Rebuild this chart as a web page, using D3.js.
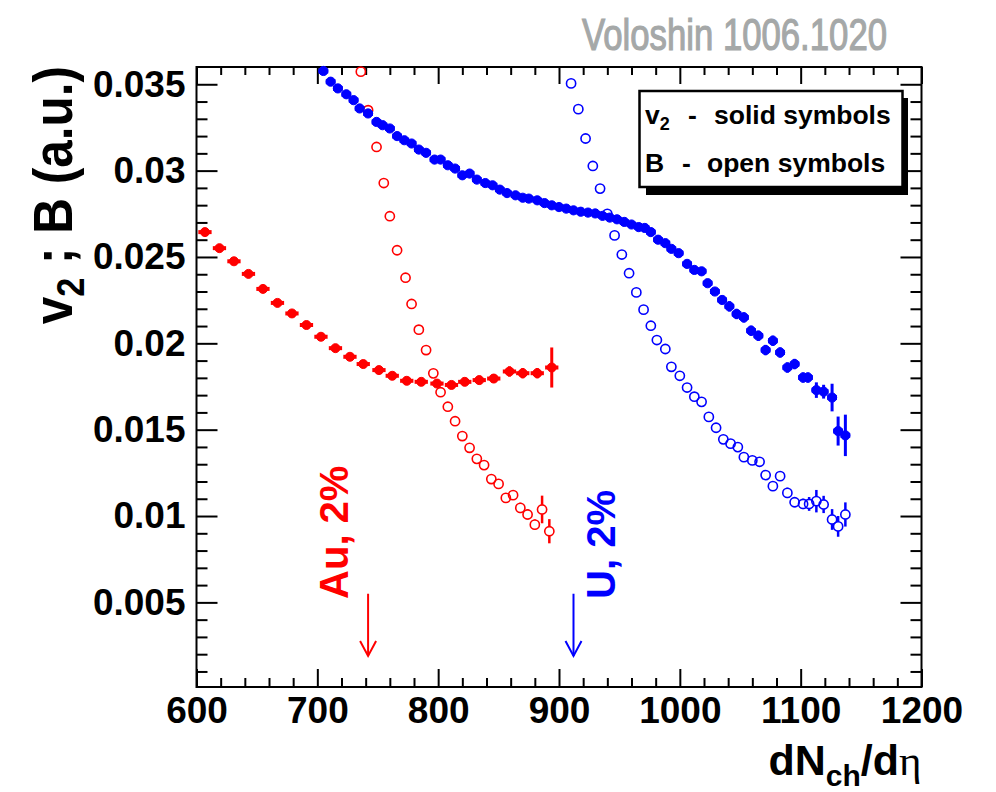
<!DOCTYPE html>
<html lang="en">
<head>
<meta charset="UTF-8">
<title>v2 and B vs dNch/deta</title>
<script src="https://d3js.org/d3.v7.min.js"></script>
<style>
  body { margin: 0; background: #fff; }
  text { font-family: "Liberation Sans", Arial, sans-serif; }
</style>
</head>
<body>
<svg id="chart" width="996" height="792"></svg>
<script>
// Au, v2 (solid red)
const auV2X = [607, 619, 631, 643, 655, 667, 679, 691, 703, 715, 727, 738, 751, 762, 774, 786, 799, 811, 822, 834, 846, 859, 870, 882, 894];
const auV2Y = [0.02644, 0.02551, 0.02475, 0.02402, 0.02315, 0.02234, 0.02173, 0.02106, 0.02038, 0.01972, 0.01922, 0.0188, 0.01845, 0.01812, 0.01783, 0.01777, 0.01767, 0.01759, 0.01777, 0.01787, 0.01796, 0.01837, 0.01827, 0.01827, 0.0186];
const auV2Err = [0.0002, 0.0002, 0.0002, 0.0002, 0.0002, 0.0002, 0.0002, 0.0002, 0.0002, 0.0002, 0.0002, 0.0002, 0.0002, 0.0002, 0.0002, 0.0002, 0.0002, 0.0002, 0.0002, 0.00025, 0.00025, 0.0003, 0.0003, 0.0003, 0.00116];

// Au, B (open red)
const auBX = [736, 742, 749, 755, 760, 766, 773, 778, 784, 790, 796, 802, 808, 814, 820, 826, 832, 838, 844, 850, 856, 862, 868, 874, 880, 886, 892];
const auBY = [0.03573, 0.0335, 0.03137, 0.02928, 0.02736, 0.02539, 0.0238, 0.02228, 0.02079, 0.01961, 0.01826, 0.01717, 0.01633, 0.01549, 0.01463, 0.01395, 0.01331, 0.01295, 0.01214, 0.01186, 0.01105, 0.01121, 0.01047, 0.01009, 0.0095, 0.01038, 0.00912];
const auBErr = [0.0002, 0.0002, 0.0002, 0.0002, 0.0002, 0.0002, 0.0002, 0.0002, 0.0002, 0.0002, 0.0002, 0.0002, 0.0002, 0.0002, 0.0002, 0.0002, 0.0002, 0.0002, 0.0002, 0.0002, 0.00025, 0.00025, 0.0003, 0.0003, 0.0003, 0.0008, 0.0007];

// U, v2 (solid blue)
const uV2X = [705, 711, 717, 724, 730, 735, 742, 749, 754, 760, 766, 772, 778, 784, 790, 797, 802, 808, 814, 820,
  826, 832, 839, 845, 851, 857, 864, 870, 875, 882, 888, 894, 900, 906, 912, 918, 924, 930, 936, 942,
  948, 954, 960, 966, 971, 976, 982, 988, 993, 999, 1006, 1012, 1018, 1023, 1029, 1035, 1041, 1047, 1053, 1059,
  1065, 1071, 1077, 1083, 1089, 1095, 1102, 1106, 1113, 1119, 1126, 1131, 1137];
const uV2Y = [0.03577, 0.03515, 0.03476, 0.03442, 0.03408, 0.0336, 0.03331, 0.03282, 0.03263, 0.03244, 0.032, 0.03176, 0.03157, 0.03122, 0.03103, 0.03064, 0.03064, 0.03031, 0.03012, 0.02973,
  0.02983, 0.02948, 0.02928, 0.02915, 0.0289, 0.0287, 0.02857, 0.02843, 0.02838, 0.02828, 0.02812, 0.02799, 0.02789, 0.0278, 0.0277, 0.02762, 0.02757, 0.02752, 0.02738, 0.02728,
  0.02718, 0.02703, 0.02688, 0.02673, 0.02668, 0.02644, 0.026, 0.0258, 0.02547, 0.02522, 0.0246, 0.02425, 0.02417, 0.02348, 0.023, 0.02251, 0.02214, 0.0217, 0.0215, 0.02073,
  0.02044, 0.01961, 0.02015, 0.01947, 0.0186, 0.0188, 0.01802, 0.01802, 0.01729, 0.0172, 0.01686, 0.01492, 0.01467];
const uV2Err = [0.0002, 0.0002, 0.0002, 0.0002, 0.0002, 0.0002, 0.0002, 0.0002, 0.0002, 0.0002, 0.0002, 0.0002, 0.0002, 0.0002, 0.0002, 0.0002, 0.0002, 0.0002, 0.0002, 0.0002,
  0.0002, 0.0002, 0.0002, 0.0002, 0.0002, 0.0002, 0.0002, 0.0002, 0.0002, 0.0002, 0.0002, 0.0002, 0.0002, 0.0002, 0.0002, 0.0002, 0.0002, 0.0002, 0.0002, 0.0002,
  0.0002, 0.0002, 0.0002, 0.0002, 0.0002, 0.0002, 0.0002, 0.0002, 0.0002, 0.0002, 0.0002, 0.0002, 0.0002, 0.0002, 0.0002, 0.0002, 0.0003, 0.0003, 0.0003, 0.0003,
  0.0003, 0.0003, 0.0003, 0.0003, 0.0003, 0.0003, 0.0003, 0.0003, 0.00045, 0.0004, 0.0008, 0.00084, 0.0012];

// U, B (open blue)
const uBX = [910, 916, 922, 928, 934, 940, 946, 952, 958, 964, 970, 976, 981, 988, 993, 1000, 1006, 1012, 1018, 1024,
  1030, 1036, 1042, 1048, 1053, 1060, 1066, 1071, 1077, 1083, 1089, 1095, 1102, 1107, 1113, 1119, 1126, 1131, 1137];
const uBY = [0.03505, 0.03356, 0.03186, 0.03027, 0.02896, 0.0275, 0.02625, 0.02514, 0.02406, 0.02295, 0.02195, 0.02102, 0.02019, 0.01967, 0.01864, 0.01812, 0.01744, 0.01691, 0.01661, 0.01574,
  0.01511, 0.01444, 0.01419, 0.01399, 0.01341, 0.01322, 0.01314, 0.01237, 0.01173, 0.01231, 0.01134, 0.0108, 0.0107, 0.0107, 0.01086, 0.01067, 0.0098, 0.0094, 0.01009];
const uBErr = [0.0002, 0.0002, 0.0002, 0.0002, 0.0002, 0.0002, 0.0002, 0.0002, 0.0002, 0.0002, 0.0002, 0.0002, 0.0002, 0.0002, 0.0002, 0.0002, 0.0002, 0.0002, 0.0002, 0.0002,
  0.0002, 0.0002, 0.0002, 0.0002, 0.0002, 0.00025, 0.00025, 0.00025, 0.00025, 0.00025, 0.0003, 0.0003, 0.0003, 0.0004, 0.00065, 0.0005, 0.0006, 0.0006, 0.0007];

// half bin widths (x errors)
const auXErr = 5.5;
const uXErr = 4;

// axes
const xMajor = [600, 700, 800, 900, 1000, 1100, 1200];
const xLabels = ["600", "700", "800", "900", "1000", "1100", "1200"];
const yMajor = [0.005, 0.01, 0.015, 0.02, 0.025, 0.03, 0.035];
const yLabels = ["0.005", "0.01", "0.015", "0.02", "0.025", "0.03", "0.035"];

// 2% centrality markers
const arrowX = [742, 912];
const arrowLabelX = [725.5, 946.5];
const arrowLabels = ["Au, 2%", "U, 2%"];
const arrowColors = ["#ff0000", "#0000ff"];

const svg = d3.select("#chart");
const margin = { top: 67, right: 74.5, bottom: 105, left: 196.5 };
const width = 996, height = 792;
const x0 = margin.left, x1 = width - margin.right;
const y0 = height - margin.bottom, y1 = margin.top;

const x = d3.scaleLinear().domain([600, 1200]).range([x0, x1]);
const y = d3.scaleLinear().domain([0.0001, 0.036]).range([y0, y1]);

const xMinor = d3.range(600, 1201, 20).filter(v => v % 100 !== 0);
const yMinor = d3.range(1, 36).map(v => v / 1000).filter(v => Math.round(v * 1000) % 5 !== 0);

function styleAxis(g) {
    g.select(".domain").remove();
    g.selectAll("line").attr("stroke", "#000").attr("stroke-width", 2);
    g.selectAll("text")
        .style("font-family", "'Liberation Sans', Arial, sans-serif")
        .style("font-size", "37px")
        .style("font-weight", "bold")
        .attr("fill", "#000");
}

// bottom / top
svg.append("g").attr("transform", `translate(0,${y0})`)
    .call(d3.axisBottom(x).tickValues(xMajor).tickSize(-18).tickPadding(10).tickFormat((d, i) => xLabels[i]))
    .call(styleAxis);
svg.append("g").attr("transform", `translate(0,${y0})`)
    .call(d3.axisBottom(x).tickValues(xMinor).tickSize(-9).tickFormat(""))
    .call(styleAxis);
svg.append("g").attr("transform", `translate(0,${y1})`)
    .call(d3.axisTop(x).tickValues(xMajor).tickSize(-17).tickFormat(""))
    .call(styleAxis);
svg.append("g").attr("transform", `translate(0,${y1})`)
    .call(d3.axisTop(x).tickValues(xMinor).tickSize(-8).tickFormat(""))
    .call(styleAxis);

// left / right
svg.append("g").attr("transform", `translate(${x0},0)`)
    .call(d3.axisLeft(y).tickValues(yMajor).tickSize(-21).tickPadding(11).tickFormat((d, i) => yLabels[i]))
    .call(styleAxis);
svg.append("g").attr("transform", `translate(${x0},0)`)
    .call(d3.axisLeft(y).tickValues(yMinor).tickSize(-11).tickFormat(""))
    .call(styleAxis);
svg.append("g").attr("transform", `translate(${x1},0)`)
    .call(d3.axisRight(y).tickValues(yMajor).tickSize(-21).tickFormat(""))
    .call(styleAxis);
svg.append("g").attr("transform", `translate(${x1},0)`)
    .call(d3.axisRight(y).tickValues(yMinor).tickSize(-11).tickFormat(""))
    .call(styleAxis);

// frame
svg.append("rect")
    .attr("x", x0).attr("y", y1)
    .attr("width", x1 - x0).attr("height", y0 - y1)
    .attr("fill", "none").attr("stroke", "#000").attr("stroke-width", 2);

const plot = svg.append("g");

function drawSeries(xs, ys, errs, xErr, color, open, r, barW) {
    const pts = xs.map((v, i) => ({ x: v, y: ys[i], e: errs[i] }));
    const g = plot.append("g");
    pts.forEach(p => {
        const cx = x(p.x), cy = y(p.y);
        const top = y(p.y + p.e), bot = y(p.y - p.e);
        if (open) {
            if (cy - top > r) {
                g.append("line").attr("x1", cx).attr("x2", cx).attr("y1", top).attr("y2", cy - r)
                    .attr("stroke", color).attr("stroke-width", 2.5);
                g.append("line").attr("x1", cx).attr("x2", cx).attr("y1", cy + r).attr("y2", bot)
                    .attr("stroke", color).attr("stroke-width", 2.5);
            }
        } else {
            g.append("line").attr("x1", x(p.x - xErr)).attr("x2", x(p.x + xErr)).attr("y1", cy).attr("y2", cy)
                .attr("stroke", color).attr("stroke-width", barW);
            g.append("line").attr("x1", cx).attr("x2", cx).attr("y1", top).attr("y2", bot)
                .attr("stroke", color).attr("stroke-width", 3);
        }
    });
    g.selectAll("circle")
        .data(pts)
        .enter().append("circle")
        .attr("cx", d => x(d.x))
        .attr("cy", d => y(d.y))
        .attr("r", r)
        .attr("fill", open ? "none" : color)
        .attr("stroke", color)
        .attr("stroke-width", open ? 1.6 : 1);
}

drawSeries(auV2X, auV2Y, auV2Err, auXErr, "#ff0000", false, 4.5, 4);
drawSeries(auBX, auBY, auBErr, auXErr, "#ff0000", true, 4.6, 0);
drawSeries(uV2X, uV2Y, uV2Err, uXErr, "#0000ff", false, 4.6, 5);
drawSeries(uBX, uBY, uBErr, uXErr, "#0000ff", true, 4.6, 0);

// arrows + labels
arrowX.forEach((ax, i) => {
    const c = arrowColors[i];
    const px = x(ax);
    const yTop = y(0.0055), yTip = y(0.0019);
    svg.append("line").attr("x1", px).attr("x2", px).attr("y1", yTop).attr("y2", yTip)
        .attr("stroke", c).attr("stroke-width", 2);
    svg.append("path")
        .attr("d", `M${px - 8},${yTip - 15}L${px},${yTip}L${px + 8},${yTip - 15}`)
        .attr("fill", "none").attr("stroke", c).attr("stroke-width", 2);
    svg.append("text")
        .attr("transform", `translate(${x(arrowLabelX[i])},${y(0.0052)}) rotate(-90)`)
        .attr("fill", c)
        .style("font-size", "40px")
        .style("font-weight", "bold")
        .text(arrowLabels[i]);
});

// legend
const lg = svg.append("g");
lg.append("rect").attr("x", 646).attr("y", 98).attr("width", 262).attr("height", 97).attr("fill", "#000");
lg.append("rect").attr("x", 639.5).attr("y", 91).attr("width", 263).attr("height", 96)
    .attr("fill", "#fff").attr("stroke", "#000").attr("stroke-width", 2.5);
const l1 = lg.append("text").attr("x", 645).attr("y", 124)
    .style("font-size", "26.5px").style("font-weight", "bold");
l1.append("tspan").text("v");
l1.append("tspan").attr("dy", 6).style("font-size", "18px").text("2");
l1.append("tspan").attr("x", 688).attr("dy", -6).text("-");
l1.append("tspan").attr("x", 714).text("solid symbols");
const l2 = lg.append("text").attr("x", 645).attr("y", 172)
    .style("font-size", "26.5px").style("font-weight", "bold");
l2.append("tspan").text("B");
l2.append("tspan").attr("x", 682).text("-");
l2.append("tspan").attr("x", 707).text("open symbols");

// axis titles
const xt = svg.append("text")
    .attr("x", x1).attr("y", 775)
    .attr("text-anchor", "end")
    .style("font-size", "43px").style("font-weight", "bold");
xt.append("tspan").text("dN");
xt.append("tspan").attr("dy", 11).style("font-size", "30px").text("ch");
xt.append("tspan").attr("dy", -11).text("/d");
xt.append("tspan").style("font-family", "'Liberation Serif', serif").style("font-weight", "normal").text("η");

const yt = svg.append("text")
    .attr("transform", `translate(72,${y1 - 1}) rotate(-90) scale(0.9,1)`)
    .attr("text-anchor", "end")
    .style("font-size", "55px").style("font-weight", "bold");
yt.append("tspan").text("v");
yt.append("tspan").attr("dy", 12).style("font-size", "38px").text("2");
yt.append("tspan").attr("dy", -12).text(" ;  B (a.u.)");

// header
svg.append("text")
    .attr("x", 582).attr("y", 50)
    .attr("textLength", 305)
    .attr("lengthAdjust", "spacingAndGlyphs")
    .attr("fill", "#a5a8a8")
    .attr("stroke", "#a5a8a8")
    .attr("stroke-width", 1.2)
    .style("font-size", "44px")
    .style("font-weight", "normal")
    .text("Voloshin 1006.1020");
</script>
</body>
</html>
